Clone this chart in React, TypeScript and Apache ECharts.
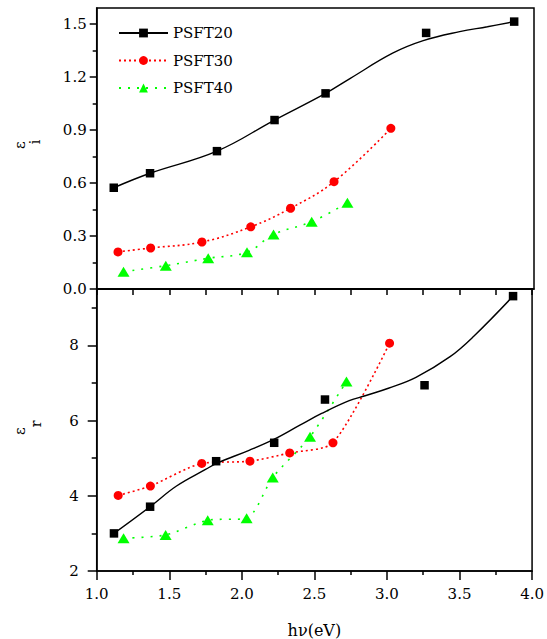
import React, { useEffect, useRef } from "react";
import * as echarts from "echarts";

const FONT = "DejaVu Serif";

const xTicks = [1.0, 1.5, 2.0, 2.5, 3.0, 3.5, 4.0];
const epsITicks = [0.0, 0.3, 0.6, 0.9, 1.2, 1.5];
const epsIMinorTicks = [0.15, 0.45, 0.75, 1.05, 1.35];
const epsRTicks = [2, 4, 6, 8];
const epsRMinorTicks = [3, 5, 7, 9];
const seriesNames = ["PSFT20", "PSFT30", "PSFT40"];

// Imaginary part (top panel)
const psft20Imag = [
  [1.117, 0.573], [1.366, 0.655], [1.825, 0.78], [2.22, 0.956],
  [2.57, 1.107], [3.26, 1.449], [3.864, 1.513],
];
const psft20ImagFit = [
  [1.117, 0.573], [1.366, 0.655], [1.825, 0.78], [2.22, 0.956],
  [2.57, 1.107], [2.74, 1.192], [3.03, 1.334], [3.24, 1.405],
  [3.49, 1.456], [3.68, 1.484], [3.864, 1.513],
];
const psft30Imag = [
  [1.146, 0.21], [1.37, 0.232], [1.722, 0.266], [2.057, 0.352],
  [2.33, 0.457], [2.628, 0.607], [3.018, 0.909],
];
const psft40Imag = [
  [1.184, 0.098], [1.474, 0.132], [1.765, 0.174], [2.031, 0.208],
  [2.213, 0.308], [2.475, 0.381], [2.72, 0.488],
];

// Real part (bottom panel)
const psft20Real = [
  [1.119, 3.0], [1.368, 3.71], [1.823, 4.92], [2.223, 5.41],
  [2.573, 6.56], [3.259, 6.94], [3.869, 9.31],
];
const psft20RealFit = [
  [1.119, 3.0], [1.368, 3.71], [1.55, 4.26], [1.75, 4.7], [1.83, 4.87],
  [2.05, 5.21], [2.22, 5.5], [2.4, 5.88], [2.55, 6.19], [2.74, 6.53],
  [2.85, 6.66], [3.01, 6.86], [3.2, 7.15], [3.435, 7.7],
  [3.6, 8.25], [3.869, 9.31],
];
const psft30Real = [
  [1.148, 4.01], [1.37, 4.26], [1.724, 4.86], [2.056, 4.92],
  [2.33, 5.14], [2.628, 5.41], [3.018, 8.06],
];
const psft40Real = [
  [1.185, 2.87], [1.475, 2.96], [1.765, 3.35], [2.033, 3.4],
  [2.213, 4.49], [2.47, 5.57], [2.721, 7.04],
];

const BLACK = "#000000";
const RED = "#ff0000";
const GREEN = "#00ff00";

export default function App() {
  const ref = useRef<HTMLDivElement>(null);

  useEffect(() => {
    if (!ref.current) return;
    const chart = echarts.init(ref.current, null, { renderer: "svg" });

    const gridLeft = 96.7;
    const gridWidth = 437.3;

    const axisLine = { show: true, lineStyle: { color: BLACK, width: 1.5 } };
    const labelStyle = { fontFamily: FONT, fontSize: 15, color: BLACK };

    const blackFit = (data: number[][], xi: number, yi: number) => ({
      type: "line",
      name: "PSFT20",
      xAxisIndex: xi,
      yAxisIndex: yi,
      data,
      smooth: 0.4,
      symbol: "rect",
      symbolSize: 8,
      showSymbol: false,
      lineStyle: { color: BLACK, width: 1.4 },
      itemStyle: { color: BLACK, opacity: 1 },
      z: 3,
    });
    const blackPts = (data: number[][], xi: number, yi: number) => ({
      type: "scatter",
      name: "PSFT20 points",
      xAxisIndex: xi,
      yAxisIndex: yi,
      data,
      symbol: "rect",
      symbolSize: 8.5,
      itemStyle: { color: BLACK, opacity: 1 },
      z: 4,
    });
    const redLine = (data: number[][], xi: number, yi: number, smooth: number) => ({
      type: "line",
      name: "PSFT30",
      xAxisIndex: xi,
      yAxisIndex: yi,
      data,
      smooth,
      symbol: "circle",
      symbolSize: 9,
      lineStyle: { color: RED, width: 1.6, type: [2, 3] },
      itemStyle: { color: RED, opacity: 1 },
      z: 2,
    });
    const greenLine = (data: number[][], xi: number, yi: number, smooth: number) => ({
      type: "line",
      name: "PSFT40",
      xAxisIndex: xi,
      yAxisIndex: yi,
      data,
      smooth,
      symbol: "triangle",
      symbolSize: [12, 10],
      lineStyle: { color: GREEN, width: 1.6, type: [2, 7] },
      itemStyle: { color: GREEN, opacity: 1 },
      z: 2,
    });

    const option: any = {
      animation: false,
      backgroundColor: "#ffffff",
      grid: [
        { left: gridLeft, top: 8, width: gridWidth, height: 281, show: true, borderColor: BLACK, borderWidth: 1.5 },
        { left: gridLeft, top: 289, width: gridWidth, height: 282.7, show: true, borderColor: BLACK, borderWidth: 1.5 },
      ],
      legend: {
        left: 118,
        top: 24,
        orient: "vertical",
        padding: 0,
        itemWidth: 49,
        itemHeight: 11,
        itemGap: 9.5,
        selectedMode: false,
        data: seriesNames,
        textStyle: { fontFamily: FONT, fontSize: 15, color: BLACK, lineHeight: 18 },
      },
      xAxis: [
        {
          type: "value", gridIndex: 0, min: xTicks[0], max: xTicks[xTicks.length - 1], interval: 0.5,
          axisLine, axisTick: { show: false }, axisLabel: { show: false }, splitLine: { show: false },
        },
        {
          type: "value", gridIndex: 1, position: "bottom",
          min: xTicks[0], max: xTicks[xTicks.length - 1], interval: 0.5,
          axisLine,
          axisTick: { show: true, inside: false, length: 9, lineStyle: { color: BLACK, width: 1.5 } },
          minorTick: { show: true, splitNumber: 2, length: 4, lineStyle: { color: BLACK, width: 1.5 } },
          axisLabel: { ...labelStyle, margin: 15, formatter: (v: number) => v.toFixed(1) },
          splitLine: { show: false },
          name: "hν(eV)",
          nameLocation: "middle",
          nameGap: 51,
          nameTextStyle: { fontFamily: FONT, fontSize: 16, color: BLACK },
        },
        {
          type: "value", gridIndex: 1, position: "top",
          min: xTicks[0], max: xTicks[xTicks.length - 1], interval: 0.5,
          axisLine,
          axisTick: { show: true, inside: true, length: 6, lineStyle: { color: BLACK, width: 1.5 } },
          minorTick: { show: true, splitNumber: 2, length: 6, lineStyle: { color: BLACK, width: 1.5 } },
          axisLabel: { show: false },
          splitLine: { show: false },
        },
      ],
      yAxis: [
        {
          type: "value", gridIndex: 0, position: "left", min: 0, max: 1.59,
          axisLine,
          axisTick: { show: true, length: 7, customValues: epsITicks, lineStyle: { color: BLACK, width: 1.5 } },
          axisLabel: { ...labelStyle, margin: 10, customValues: epsITicks, formatter: (v: number) => v.toFixed(1) },
          splitLine: { show: false },
        },
        {
          type: "value", gridIndex: 1, position: "left", min: 2, max: 9.5,
          axisLine,
          axisTick: { show: true, length: 9, customValues: epsRTicks, lineStyle: { color: BLACK, width: 1.5 } },
          axisLabel: { ...labelStyle, margin: 18, customValues: epsRTicks, formatter: (v: number) => String(Math.round(v)) },
          splitLine: { show: false },
        },
        {
          type: "value", gridIndex: 0, position: "left", min: 0, max: 1.59,
          axisLine: { show: false },
          axisTick: { show: true, length: 4, customValues: epsIMinorTicks, lineStyle: { color: BLACK, width: 1.5 } },
          axisLabel: { show: false },
          splitLine: { show: false },
        },
        {
          type: "value", gridIndex: 1, position: "left", min: 2, max: 9.5,
          axisLine: { show: false },
          axisTick: { show: true, length: 5, customValues: epsRMinorTicks, lineStyle: { color: BLACK, width: 1.5 } },
          axisLabel: { show: false },
          splitLine: { show: false },
        },
      ],
      graphic: [
        { type: "text", x: 20, y: 145, rotation: Math.PI / 2, style: { text: "ε", fontFamily: FONT, fontSize: 15, fill: BLACK, align: "center", verticalAlign: "middle" } },
        { type: "text", x: 35, y: 142, rotation: Math.PI / 2, style: { text: "i", fontFamily: FONT, fontSize: 14, fill: BLACK, align: "center", verticalAlign: "middle" } },
        { type: "text", x: 20, y: 431, rotation: Math.PI / 2, style: { text: "ε", fontFamily: FONT, fontSize: 15, fill: BLACK, align: "center", verticalAlign: "middle" } },
        { type: "text", x: 36, y: 424, rotation: Math.PI / 2, style: { text: "r", fontFamily: FONT, fontSize: 14, fill: BLACK, align: "center", verticalAlign: "middle" } },
      ],
      series: [
        blackFit(psft20ImagFit, 0, 0),
        redLine(psft30Imag, 0, 0, 0.4),
        greenLine(psft40Imag, 0, 0, 0.4),
        blackPts(psft20Imag, 0, 0),
        blackFit(psft20RealFit, 1, 1),
        redLine(psft30Real, 1, 1, 0.25),
        greenLine(psft40Real, 1, 1, 0.25),
        blackPts(psft20Real, 1, 1),
      ],
    };

    chart.setOption(option);
    return () => chart.dispose();
  }, []);

  return (
    <div
      ref={ref}
      style={{ position: "fixed", left: 0, top: 0, width: 547, height: 639, background: "#fff" }}
    />
  );
}
